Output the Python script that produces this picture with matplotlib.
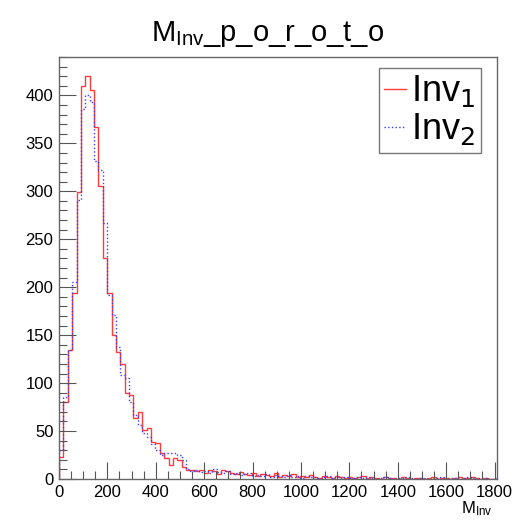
import numpy as np
import matplotlib
matplotlib.use("Agg")
import matplotlib.pyplot as plt
from matplotlib.ticker import MultipleLocator

# histogram binning: 100 bins over the M_Inv range
x_min, x_max, n_bins = 0, 1810, 100

inv1 = [23, 80, 134, 194, 299, 410, 420, 406, 367, 306,
        230, 194, 150, 132, 120, 90, 88, 64, 70, 51,
        53, 39, 38, 27, 22, 15, 22, 20, 13, 9,
        9, 8, 9, 6, 9, 8, 5, 9, 8, 6,
        5, 7, 5, 4, 6, 3, 5, 4, 3, 6,
        2, 4, 3, 5, 2, 3, 2, 4, 2, 1,
        3, 2, 1, 3, 2, 1, 2, 1, 2, 3,
        1, 2, 1, 0, 2, 1, 1, 0, 2, 1,
        0, 1, 1, 0, 1, 2, 0, 1, 1, 0,
        1, 2, 1, 1, 2, 1, 0, 1, 0, 0]

inv2 = [30, 85, 135, 205, 291, 386, 400, 393, 332, 322,
        267, 192, 171, 138, 108, 105, 80, 67, 56, 48,
        44, 37, 30, 25, 27, 27, 27, 25, 20, 10,
        8, 9, 7, 8, 6, 10, 7, 6, 8, 5,
        6, 4, 5, 6, 3, 4, 3, 5, 2, 4,
        3, 2, 4, 2, 3, 1, 3, 2, 2, 1,
        2, 3, 1, 2, 1, 2, 1, 1, 2, 1,
        2, 1, 0, 1, 2, 1, 0, 1, 1, 2,
        1, 0, 1, 1, 0, 1, 1, 2, 0, 1,
        1, 0, 1, 2, 1, 0, 1, 1, 0, 1]

edges = np.linspace(x_min, x_max, n_bins + 1)

plt.rcParams['font.family'] = ['Liberation Sans', 'DejaVu Sans']

fig = plt.figure(figsize=(5.2, 5.26), dpi=100)
ax = fig.add_axes([59/520, 1 - 479/526, (497 - 59)/520, (479 - 57)/526])

ax.stairs(inv1, edges, color='#ff3b3b', linewidth=1, label='Inv$_1$')
ax.stairs(inv2, edges, color='#3b3bff', linewidth=1, linestyle=':', label='Inv$_2$')

ax.set_xlim(x_min, x_max)
ax.set_ylim(0, 440)

ax.xaxis.set_major_locator(MultipleLocator(200))
ax.xaxis.set_minor_locator(MultipleLocator(50))
ax.yaxis.set_major_locator(MultipleLocator(50))
ax.yaxis.set_minor_locator(MultipleLocator(10))
ax.tick_params(which='both', direction='in', top=False, right=False,
               color='#555555', labelsize=12, width=0.8)
ax.tick_params(which='major', length=12, pad=4)
ax.tick_params(which='minor', length=6)
for s in ax.spines.values():
    s.set_color('#666666')
    s.set_linewidth(1)

fig.text(0.515, 1 - 34/526, r'$\mathregular{M_{Inv}}$_p_o_r_o_t_o',
         ha='center', va='center', fontsize=21)
fig.text(492/520, 1 - 509/526, r'$\mathregular{M_{Inv}}$',
         ha='right', va='center', fontsize=12)

leg = ax.legend(loc='upper right', bbox_to_anchor=(481/520, 1 - 68/526),
                bbox_transform=fig.transFigure, borderaxespad=0,
                fontsize=26, handlelength=0.6, handletextpad=0.15,
                labelspacing=0.05, borderpad=0.15, fancybox=False,
                framealpha=1)
leg.get_frame().set_edgecolor('#777777')
leg.get_frame().set_linewidth(1)

fig.savefig('out.png', dpi=100)
